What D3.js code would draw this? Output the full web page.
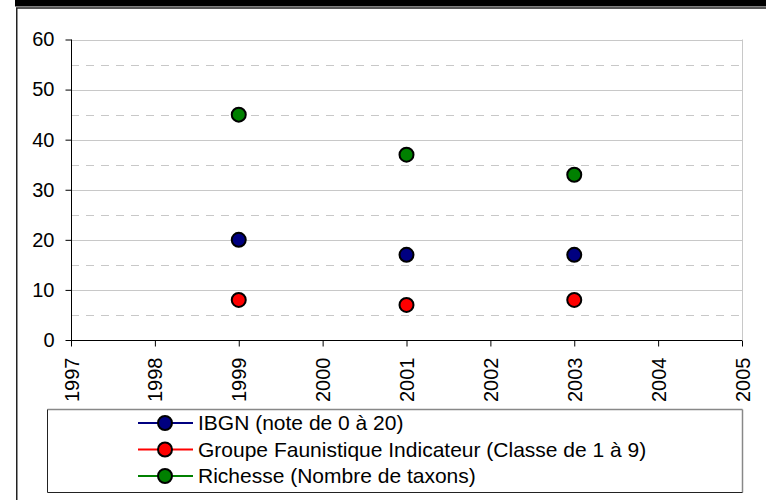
<!DOCTYPE html>
<html>
<head>
<meta charset="utf-8">
<script src="https://cdn.jsdelivr.net/npm/d3@7/dist/d3.min.js"></script>
<style>
  html, body { margin: 0; padding: 0; background: #fff; }
  svg { display: block; }
  text { font-family: "Liberation Sans", Arial, sans-serif; fill: #000; }
</style>
</head>
<body>
<svg id="chart" width="766" height="500"></svg>
<script>
// Sampling years and the three biological indicators
const years = [1999, 2001, 2003];
const ibgn = [20, 17, 17];
const gfi = [8, 7, 8];
const richesse = [45, 37, 33];

const xTicks = [1997, 1998, 1999, 2000, 2001, 2002, 2003, 2004, 2005];
const yTicks = [0, 10, 20, 30, 40, 50, 60];
const yMinor = [5, 15, 25, 35, 45, 55];

const seriesNames = [
  "IBGN (note de 0 à 20)",
  "Groupe Faunistique Indicateur (Classe de 1 à 9)",
  "Richesse (Nombre de taxons)"
];
const seriesColors = ["#000080", "#ff0000", "#008000"];
const seriesValues = [ibgn, gfi, richesse];

const svg = d3.select("#chart");

// Outer frame
svg.append("rect").attr("x", 15).attr("y", 0).attr("width", 751).attr("height", 6.5).attr("fill", "#000");
svg.append("rect").attr("x", 16.75).attr("y", 8).attr("width", 800).attr("height", 600)
  .attr("fill", "none").attr("stroke", "#222").attr("stroke-width", 1.5);

const plotL = 71, plotR = 742, plotT = 39.5, plotB = 340;
const x = d3.scaleLinear().domain([1997, 2005]).range([plotL, plotR]);
const y = d3.scaleLinear().domain([0, 60]).range([plotB, plotT]);

// Gridlines
const grid = svg.append("g");
grid.selectAll("line.minor").data(yMinor).join("line")
  .attr("x1", plotL).attr("x2", plotR)
  .attr("y1", d => Math.round(y(d)) + 0.5).attr("y2", d => Math.round(y(d)) + 0.5)
  .attr("stroke", "#c8c8c8").attr("stroke-width", 1).attr("stroke-dasharray", "8,7");
grid.selectAll("line.major").data(yTicks.filter(d => d > 0)).join("line")
  .attr("x1", plotL).attr("x2", plotR)
  .attr("y1", d => Math.round(y(d)) + 0.5).attr("y2", d => Math.round(y(d)) + 0.5)
  .attr("stroke", "#c8c8c8").attr("stroke-width", 1);
// Plot area right edge
svg.append("line").attr("x1", plotR + 0.5).attr("x2", plotR + 0.5).attr("y1", plotT).attr("y2", plotB)
  .attr("stroke", "#c8c8c8");

// Y axis
const yAxis = svg.append("g").attr("transform", `translate(${plotL + 0.5},0)`)
  .call(d3.axisLeft(y).tickValues(yTicks).tickSize(6).tickPadding(11).tickFormat(d3.format("d")));
yAxis.select(".domain").attr("stroke", "#000").attr("d", `M0,${plotT}V${plotB}`);
yAxis.selectAll(".tick line").attr("stroke", "#000");
yAxis.selectAll("text").attr("font-size", 20).attr("font-family", "Liberation Sans, Arial, sans-serif");

// X axis
const xAxis = svg.append("g").attr("transform", `translate(0,${plotB + 0.5})`)
  .call(d3.axisBottom(x).tickValues(xTicks).tickSize(6).tickFormat(d3.format("d")));
xAxis.select(".domain").attr("stroke", "#000").attr("d", `M${plotL},0H${plotR}`);
xAxis.selectAll(".tick line").attr("stroke", "#000");
xAxis.selectAll("text")
  .attr("font-size", 20).attr("font-family", "Liberation Sans, Arial, sans-serif")
  .attr("text-anchor", "end").attr("dy", "0.35em")
  .attr("transform", "translate(0,17) rotate(-90)")
  .attr("x", 0).attr("y", 0);

// Markers
seriesValues.forEach((vals, i) => {
  svg.append("g").selectAll("circle").data(vals).join("circle")
    .attr("cx", (d, j) => x(years[j]))
    .attr("cy", d => y(d))
    .attr("r", 7)
    .attr("fill", seriesColors[i])
    .attr("stroke", "#000").attr("stroke-width", 2);
});

// Legend
const lg = svg.append("g");
const lx = 47.5, ly = 409.5, lw = 695, lh = 83;
lg.append("rect").attr("x", lx).attr("y", ly).attr("width", lw).attr("height", lh).attr("fill", "#fff");
lg.append("line").attr("x1", lx).attr("x2", lx + lw).attr("y1", ly).attr("y2", ly).attr("stroke", "#888").attr("stroke-width", 1.5);
lg.append("line").attr("x1", lx + lw).attr("x2", lx + lw).attr("y1", ly).attr("y2", ly + lh).attr("stroke", "#888").attr("stroke-width", 1.5);
lg.append("line").attr("x1", lx).attr("x2", lx).attr("y1", ly).attr("y2", ly + lh).attr("stroke", "#222").attr("stroke-width", 1);
lg.append("line").attr("x1", lx).attr("x2", lx + lw).attr("y1", ly + lh).attr("y2", ly + lh).attr("stroke", "#222").attr("stroke-width", 1);

const rowY = [423, 449.5, 476];
seriesNames.forEach((name, i) => {
  const g = lg.append("g").attr("transform", `translate(0,${rowY[i]})`);
  g.append("line").attr("x1", 138).attr("x2", 193).attr("y1", 0).attr("y2", 0)
    .attr("stroke", seriesColors[i]).attr("stroke-width", 2);
  g.append("circle").attr("cx", 165).attr("cy", 0).attr("r", 7)
    .attr("fill", seriesColors[i]).attr("stroke", "#000").attr("stroke-width", 2);
  g.append("text").attr("x", 198).attr("y", 0).attr("dy", "0.35em")
    .attr("font-size", 21).text(name);
});
</script>
</body>
</html>
